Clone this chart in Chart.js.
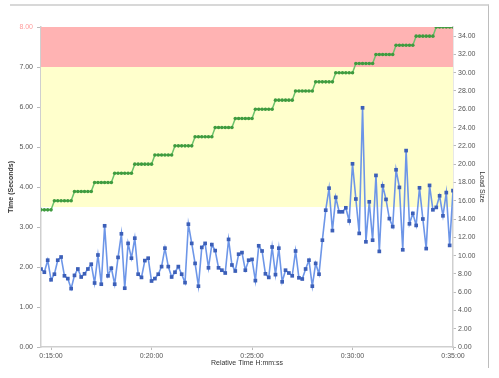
<!DOCTYPE html>
<html>
<head>
<meta charset="utf-8">
<script src="https://cdn.jsdelivr.net/npm/chart.js@4.4.1/dist/chart.umd.min.js"></script>
<style>
  html, body { margin: 0; padding: 0; background: #fff; }
  #wrap { position: relative; width: 499px; height: 378px; }
  #frame { position: absolute; left: 10px; top: 4px; width: 479px; height: 364px;
           border-top: 2px solid #d8d8d8; border-right: 1px solid #bdbdbd; box-sizing: border-box; }
  canvas { position: absolute; left: 0; top: 0; }
</style>
</head>
<body>
<div id="wrap">
  <div id="frame"></div>
  <canvas id="chart" width="499" height="378"></canvas>
</div>
<script>
// sample times: start 0:14:30, one sample every 10 s
const START_SEC = 870;
const STEP_SEC = 10;

// response time (seconds), left axis
const RESPONSE_TIME = [
  1.95, 1.87, 2.17, 1.68, 1.82, 2.17, 2.25, 1.78, 1.71, 1.46,
  1.79, 1.95, 1.75, 1.83, 1.95, 2.07, 1.60, 2.30, 1.57, 3.03,
  1.78, 1.97, 1.57, 2.24, 2.83, 1.47, 2.59, 2.22, 2.72, 1.82,
  1.74, 2.16, 2.22, 1.65, 1.71, 1.82, 2.01, 2.47, 2.01, 1.75,
  1.87, 2.01, 1.82, 1.61, 3.07, 2.59, 2.09, 1.52, 2.49, 2.59,
  1.98, 2.56, 2.41, 1.98, 1.92, 1.85, 2.69, 2.05, 1.90, 2.32,
  2.36, 1.92, 2.17, 2.19, 1.66, 2.53, 2.40, 1.83, 1.74, 2.50,
  1.81, 2.47, 1.63, 1.92, 1.85, 1.78, 2.40, 1.73, 1.70, 1.95,
  2.17, 1.52, 2.09, 1.82, 2.67, 3.42, 3.97, 2.91, 3.74, 3.38,
  3.38, 3.48, 3.15, 4.58, 3.70, 2.84, 5.98, 2.63, 3.63, 2.67,
  4.29, 2.39, 4.03, 3.69, 3.21, 3.01, 4.43, 3.99, 2.43, 4.91,
  3.08, 3.34, 3.04, 3.98, 3.20, 2.46, 4.04, 3.43, 3.49, 3.78,
  3.28, 3.86, 2.54, 3.91
];

// load size, right axis
const LOAD_SIZE = [
  15, 15, 15, 15,
  16, 16, 16, 16, 16, 16,
  17, 17, 17, 17, 17, 17,
  18, 18, 18, 18, 18, 18,
  19, 19, 19, 19, 19, 19,
  20, 20, 20, 20, 20, 20,
  21, 21, 21, 21, 21, 21,
  22, 22, 22, 22, 22, 22,
  23, 23, 23, 23, 23, 23,
  24, 24, 24, 24, 24, 24,
  25, 25, 25, 25, 25, 25,
  26, 26, 26, 26, 26, 26,
  27, 27, 27, 27, 27, 27,
  28, 28, 28, 28, 28, 28,
  29, 29, 29, 29, 29, 29,
  30, 30, 30, 30, 30, 30,
  31, 31, 31, 31, 31, 31,
  32, 32, 32, 32, 32, 32,
  33, 33, 33, 33, 33, 33,
  34, 34, 34, 34, 34, 34,
  35, 35, 35, 35, 35, 35
];

const X_TICKS = [900, 1200, 1500, 1800, 2100];
const LEFT_TICKS = [0, 1, 2, 3, 4, 5, 6, 7, 8];
const RIGHT_TICKS = [0, 2, 4, 6, 8, 10, 12, 14, 16, 18, 20, 22, 24, 26, 28, 30, 32, 34];

// threshold bands on the left axis
const WARN_FROM = 3.5, CRIT_FROM = 7, AXIS_MAX = 8;

function fmtTime(s) {
  const h = Math.floor(s / 3600);
  const m = Math.floor((s % 3600) / 60);
  const sec = s % 60;
  return h + ':' + String(m).padStart(2, '0') + ':' + String(sec).padStart(2, '0');
}

const timePts = RESPONSE_TIME.map((v, i) => ({ x: START_SEC + i * STEP_SEC, y: v }));
const loadPts = LOAD_SIZE.map((v, i) => ({ x: START_SEC + i * STEP_SEC, y: v }));

const bandPlugin = {
  id: 'bands',
  beforeDatasetsDraw(chart) {
    const { ctx, chartArea: a, scales: { y } } = chart;
    ctx.save();
    ctx.fillStyle = '#ffffcc';
    ctx.fillRect(a.left, y.getPixelForValue(CRIT_FROM), a.right - a.left,
                 y.getPixelForValue(WARN_FROM) - y.getPixelForValue(CRIT_FROM));
    ctx.fillStyle = '#ffb3b3';
    ctx.fillRect(a.left, y.getPixelForValue(AXIS_MAX), a.right - a.left,
                 y.getPixelForValue(CRIT_FROM) - y.getPixelForValue(AXIS_MAX));
    ctx.restore();
  }
};

const FONT = { family: 'Liberation Sans, Arial, sans-serif', size: 7 };

new Chart(document.getElementById('chart'), {
  type: 'line',
  data: {
    datasets: [
      {
        label: 'Load Size',
        data: loadPts,
        yAxisID: 'y1',
        borderColor: '#6cc36c',
        borderWidth: 1.5,
        pointStyle: 'circle',
        pointRadius: 1.8,
        pointBackgroundColor: '#3f9b3f',
        pointBorderColor: '#3f9b3f',
        pointBorderWidth: 0,
        tension: 0
      },
      {
        label: 'Time (Seconds)',
        data: timePts,
        yAxisID: 'y',
        borderColor: '#6d96e8',
        borderWidth: 1.6,
        pointStyle: 'rect',
        pointRadius: 2.6,
        pointBackgroundColor: '#3c5fb8',
        pointBorderColor: '#3c5fb8',
        pointBorderWidth: 0,
        tension: 0
      }
    ]
  },
  options: {
    responsive: false,
    animation: false,
    layout: { padding: { top: 27, left: 0, right: 0, bottom: 0 } },
    plugins: { legend: { display: false }, tooltip: { enabled: false } },
    scales: {
      x: {
        type: 'linear',
        min: START_SEC,
        max: START_SEC + (RESPONSE_TIME.length - 1) * STEP_SEC,
        afterBuildTicks: s => { s.ticks = X_TICKS.map(v => ({ value: v })); },
        afterFit: s => { s.height = 31; },
        border: { color: '#cfcfcf', width: 1.5 },
        grid: { drawOnChartArea: false, color: '#bbbbbb', tickLength: 3 },
        ticks: { font: FONT, color: '#555', padding: 2, maxRotation: 0, callback: v => fmtTime(v) },
        title: { display: true, text: 'Relative Time H:mm:ss', font: FONT, color: '#333', padding: { top: 0, bottom: 11 } }
      },
      y: {
        position: 'left',
        min: 0,
        max: AXIS_MAX,
        afterBuildTicks: s => { s.ticks = LEFT_TICKS.map(v => ({ value: v })); },
        afterFit: s => { s.width = 41; },
        border: { color: '#cfcfcf', width: 1.5 },
        grid: { drawOnChartArea: false, color: '#bbbbbb', tickLength: 4 },
        ticks: {
          font: FONT, padding: 4,
          color: c => c.tick.value === AXIS_MAX ? '#ff9c9c' : '#555',
          callback: v => v.toFixed(2)
        },
        title: { display: true, text: 'Time (Seconds)', font: { ...FONT, weight: 'bold' }, color: '#333', padding: { top: 7, bottom: 0 } }
      },
      y1: {
        position: 'right',
        min: 0,
        max: 35,
        afterBuildTicks: s => { s.ticks = RIGHT_TICKS.map(v => ({ value: v })); },
        afterFit: s => { s.width = 46; },
        border: { color: '#cfcfcf', width: 1.5 },
        grid: { drawOnChartArea: false, color: '#bbbbbb', tickLength: 3 },
        ticks: { font: FONT, color: '#555', padding: 2, callback: v => v.toFixed(2) },
        title: { display: true, text: 'Load Size', font: FONT, color: '#333', padding: { top: 13, bottom: 0 } }
      }
    }
  },
  plugins: [bandPlugin]
});
</script>
</body>
</html>
